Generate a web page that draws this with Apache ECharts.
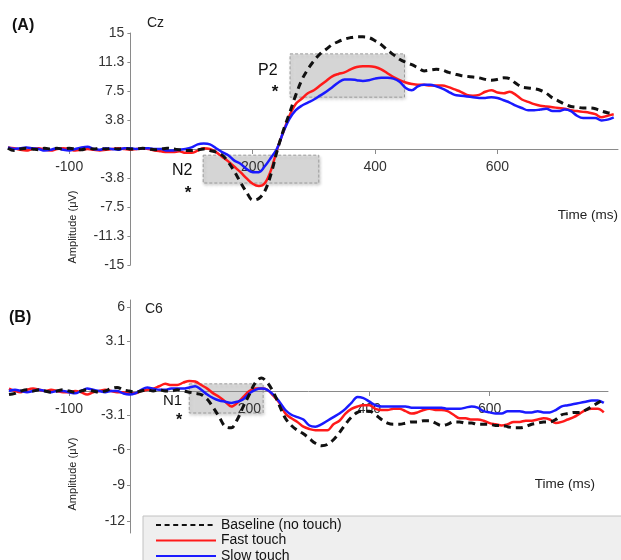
<!DOCTYPE html>
<html>
<head>
<meta charset="utf-8">
<script src="https://cdn.jsdelivr.net/npm/echarts@6/dist/echarts.min.js"></script>
<style>html,body{margin:0;padding:0;background:#fff;}#c{width:621px;height:560px;}</style>
</head>
<body>
<div id="c"></div>
<script>
// ---- data ----
const TIME = [-200,-190,-180,-170,-160,-150,-140,-130,-120,-110,-100,-90,-80,-70,-60,-50,-40,-30,-20,-10,
  0,10,20,30,40,50,60,70,80,90,100,110,120,130,140,150,160,170,180,190,
  200,210,220,230,240,250,260,270,280,290,300,310,320,330,340,350,360,370,380,390,
  400,410,420,430,440,450,460,470,480,490,500,510,520,530,540,550,560,570,580,590,
  600,610,620,630,640,650,660,670,680,690,700,710,720,730,740,750,760,770,780,790];

// Panel A (Cz)
const czBaseline = [0.1,-0.2,0.0,0.1,0.0,-0.1,0.1,0.0,0.1,0.0,0.1,0.0,-0.1,0.1,0.0,0.1,0.0,0.1,0.0,0.1,
  0.0,0.0,0.1,0.0,-0.1,0.0,0.1,0.0,-0.1,-0.2,-0.2,-0.1,0.0,-0.2,-0.4,-0.8,-1.7,-2.9,-4.3,-5.6,
  -6.6,-6.4,-5.4,-3.2,-0.2,2.4,4.6,6.9,8.9,10.3,11.4,12.3,12.9,13.5,13.9,14.2,14.4,14.5,14.5,14.4,
  14.0,13.5,12.8,12.2,11.6,11.2,10.9,10.5,10.1,10.2,10.3,10.2,9.9,9.7,9.5,9.4,9.3,9.2,9.0,8.9,
  9.0,9.2,9.1,8.5,8.0,7.9,7.8,7.6,7.2,6.6,6.2,5.8,5.5,5.4,5.3,5.3,5.2,4.9,4.7,4.6];
const czFast = [0.2,0.1,-0.1,-0.2,0.0,0.1,-0.1,-0.2,0.0,0.1,0.0,-0.2,-0.1,0.0,-0.1,-0.2,-0.1,0.0,0.1,0.0,
  -0.1,0.0,0.1,0.0,-0.2,-0.3,-0.4,-0.4,-0.3,-0.5,-0.5,-0.2,0.1,0.0,-0.4,-1.0,-1.6,-2.3,-3.0,-3.8,
  -4.5,-4.8,-4.4,-2.7,0.0,2.2,4.3,5.8,6.5,7.2,7.6,8.2,8.8,9.4,9.7,9.9,10.3,10.6,10.7,10.7,
  10.6,10.3,9.8,9.3,8.9,8.6,8.4,8.3,8.3,8.2,8.2,8.2,8.0,7.7,7.4,7.0,6.9,7.0,7.4,7.6,
  7.3,7.2,7.4,7.0,6.4,6.1,5.8,5.6,5.5,5.4,5.3,5.2,5.0,4.9,4.8,4.7,4.5,4.1,4.3,4.5];
const czSlow = [0.2,0.0,0.1,0.2,0.1,0.0,-0.2,-0.1,0.1,-0.1,-0.2,0.0,0.2,0.3,0.0,-0.1,0.1,0.0,-0.1,0.1,
  0.1,0.0,0.1,0.1,0.0,0.0,-0.2,-0.2,-0.1,0.0,0.2,0.6,0.7,0.6,0.1,-0.4,-0.8,-1.5,-1.9,-2.6,
  -3.0,-3.0,-2.2,-1.1,0.1,2.2,3.9,5.0,5.6,6.0,6.4,6.9,7.4,8.0,8.6,9.0,9.0,8.9,8.8,8.9,
  9.1,9.2,9.2,9.1,8.7,7.9,7.6,8.1,8.3,8.3,8.1,7.8,7.4,7.0,6.9,6.8,6.7,6.6,6.6,6.7,
  6.6,6.3,6.0,5.6,5.3,5.0,5.0,5.1,5.2,4.9,4.9,5.1,4.9,4.3,4.0,4.0,4.0,3.7,3.8,4.1];

// Panel B (C6)
const c6Baseline = [-0.3,-0.2,0.0,0.1,0.0,0.1,0.0,-0.1,0.0,0.1,0.0,-0.1,0.0,0.1,0.0,-0.1,0.0,0.2,0.3,0.1,
  0.0,-0.1,0.0,0.1,0.0,0.1,0.0,0.0,0.1,0.0,-0.1,-0.2,-0.3,-0.7,-1.4,-2.2,-3.0,-3.1,-2.4,-1.3,
  -0.3,0.7,1.1,0.7,-0.1,-1.2,-2.3,-2.9,-3.3,-3.6,-4.0,-4.4,-4.6,-4.5,-4.1,-3.5,-2.8,-2.2,-1.8,-1.7,
  -1.7,-2.0,-2.4,-2.7,-2.8,-2.8,-2.7,-2.6,-2.6,-2.5,-2.5,-2.7,-2.9,-2.8,-2.6,-2.6,-2.7,-2.7,-2.8,-2.8,
  -2.8,-2.9,-2.9,-3.0,-3.1,-3.1,-3.0,-2.8,-2.7,-2.6,-2.6,-2.4,-2.0,-1.9,-1.8,-1.8,-1.6,-1.3,-1.0,-0.7];
const c6Fast = [0.2,0.0,-0.1,0.1,0.2,0.1,0.0,0.1,0.0,-0.1,-0.1,0.0,-0.1,-0.3,-0.1,0.0,0.1,0.0,-0.1,-0.1,
  -0.2,-0.2,0.0,0.1,0.2,0.4,0.6,0.5,0.5,0.7,0.85,0.8,0.5,0.2,-0.2,-0.5,-0.9,-1.3,-1.0,-0.5,
  0.0,0.2,0.2,0.1,-0.4,-1.0,-1.9,-2.3,-2.6,-3.0,-3.2,-3.3,-3.3,-3.3,-2.8,-2.5,-1.9,-1.5,-1.3,-1.2,
  -1.2,-1.5,-1.6,-1.6,-1.5,-1.5,-1.7,-1.9,-1.8,-1.6,-1.5,-1.6,-1.6,-1.7,-2.0,-2.3,-2.3,-2.4,-2.4,-2.5,
  -2.7,-2.8,-2.9,-2.8,-2.6,-2.6,-2.5,-2.5,-2.4,-2.3,-2.4,-2.7,-2.6,-2.4,-2.2,-1.9,-1.6,-1.5,-1.5,-1.8];
const c6Slow = [0.0,0.1,0.0,-0.1,0.0,0.1,0.0,-0.1,0.0,0.0,-0.1,-0.2,0.0,0.2,0.1,0.0,-0.1,0.0,0.0,-0.2,
  -0.3,-0.2,0.1,0.3,0.2,0.1,0.1,0.2,0.2,0.2,0.3,0.4,0.1,-0.3,-0.6,-0.8,-0.9,-1.0,-0.9,-0.7,
  -0.2,0.1,0.2,0.1,-0.3,-0.9,-1.6,-2.0,-2.2,-2.4,-2.9,-3.0,-2.8,-2.5,-2.2,-1.9,-1.5,-1.0,-0.5,-0.6,
  -0.9,-1.2,-1.3,-1.3,-1.3,-1.3,-1.3,-1.4,-1.4,-1.4,-1.4,-1.4,-1.4,-1.5,-1.5,-1.5,-1.4,-1.3,-1.4,-1.7,
  -1.8,-1.9,-1.9,-1.7,-1.7,-1.7,-1.8,-1.8,-1.7,-1.8,-1.8,-1.6,-1.3,-1.2,-1.1,-1.0,-0.9,-0.8,-0.8,-1.0];

// tick labels
const xTicks = [-100, 200, 400, 600];
const czYTicks = [15, 11.25, 7.5, 3.75, -3.75, -7.5, -11.25, -15];
const c6YTicks = [6, 3.1, -3.1, -6, -9, -12];

// analysis windows [tStart, tEnd, vTop, vBottom]
const n2Window = [119, 308, -0.8, -4.4];
const p2Window = [261, 448, 12.3, 6.7];
const n1Window = [100, 223, 0.6, -1.85];

const NAMES = ['Baseline (no touch)', 'Fast touch', 'Slow touch'];

// ---- chart ----
const FONT = 'Liberation Sans, Arial, Helvetica, sans-serif';
const chart = echarts.init(document.getElementById('c'));
const pairs = v => TIME.map((t, i) => [t, v[i]]);

function lineSeries(name, values, xi, yi, kind) {
  const s = {
    name, type: 'line', xAxisIndex: xi, yAxisIndex: yi, data: pairs(values),
    symbol: 'none', showSymbol: false, smooth: 0.35, z: 3, animation: false
  };
  if (kind === 'base') { s.lineStyle = { color: '#111', width: 3, type: [7, 5] }; s.itemStyle = { color: '#111' }; s.z = 4; }
  if (kind === 'fast') { s.lineStyle = { color: '#ff1a1a', width: 2.5 }; s.itemStyle = { color: '#ff1a1a' }; }
  if (kind === 'slow') { s.lineStyle = { color: '#1a1aff', width: 2.5 }; s.itemStyle = { color: '#1a1aff' }; }
  return s;
}
function box(w) { return [{ xAxis: w[0], yAxis: w[2] }, { xAxis: w[1], yAxis: w[3] }]; }
const areaStyle = {
  color: 'rgba(215,215,215,0.75)', borderColor: '#9a9a9a', borderWidth: 1, borderType: [3, 2],
  shadowBlur: 3, shadowColor: 'rgba(0,0,0,0.25)', shadowOffsetX: 1, shadowOffsetY: 2
};
function areaSeries(xi, yi, windows) {
  return {
    type: 'line', xAxisIndex: xi, yAxisIndex: yi, data: [], z: 1, silent: true, animation: false,
    markArea: { silent: true, itemStyle: areaStyle, label: { show: false }, data: windows.map(box) }
  };
}

const axisGray = '#8a8a8a';
const labelStyle = { color: '#333', fontSize: 14, fontFamily: FONT };
function fmt(v) {
  const r = Math.sign(v) * Math.round(Math.abs(v) * 10) / 10;
  const s = r.toFixed(1);
  return s.endsWith('.0') ? s.slice(0, -2) : s;
}
function plotX(gi) {
  return { type: 'value', gridIndex: gi, min: -200, max: 797, show: false, splitLine: { show: false } };
}
function dummyX(gi) { return { type: 'value', gridIndex: gi, min: 0, max: 1, show: false, splitLine: { show: false } }; }
function showX(gi) {
  return {
    type: 'value', gridIndex: gi, min: -200, max: 797, position: 'bottom', z: 2,
    axisLine: { onZero: false, lineStyle: { color: axisGray, width: 1 } },
    axisTick: { show: true, length: 5, customValues: xTicks, lineStyle: { color: axisGray } },
    axisLabel: Object.assign({ customValues: xTicks, margin: 11 }, labelStyle),
    splitLine: { show: false }
  };
}
function hiddenY(gi, min, max) { return { type: 'value', gridIndex: gi, min, max, show: false, position: 'left', splitLine: { show: false } }; }
function showY(gi, min, max, ticks, margin) {
  return {
    type: 'value', gridIndex: gi, min, max, position: 'left', z: 2,
    axisLine: { show: true, onZero: false, lineStyle: { color: axisGray } },
    axisTick: { show: true, length: 3, customValues: ticks, lineStyle: { color: axisGray } },
    axisLabel: Object.assign({ customValues: ticks, margin, formatter: fmt }, labelStyle),
    splitLine: { show: false }
  };
}
const G = (left, top, width, height) => ({ left, top, width, height, outerBoundsMode: 'none', containLabel: false });

const option = {
  backgroundColor: '#fff',
  animation: false,
  grid: [
    G(8, 33, 610, 232),      // 0: plot A
    G(8, 33, 610, 116),      // 1: x axis A (bottom edge at zero line)
    G(9, 300, 599, 233),     // 2: plot B
    G(9, 300, 599, 91),      // 3: x axis B
    G(130.4, 33, 487.6, 232),// 4: y axis A
    G(130, 300, 478, 233)    // 5: y axis B
  ],
  xAxis: [plotX(0), showX(1), plotX(2), showX(3), dummyX(4), dummyX(5)],
  yAxis: [
    hiddenY(0, -15, 15),
    hiddenY(1, 0, 1),
    hiddenY(2, -11.94, 7.65),
    hiddenY(3, 0, 1),
    showY(4, -15, 15, czYTicks, 6),
    showY(5, -13.01, 6.59, c6YTicks, 5)
  ],
  legend: {
    data: [
      { name: NAMES[0], lineStyle: { type: [5, 3.6], width: 2 } },
      { name: NAMES[1], lineStyle: { width: 2 } },
      { name: NAMES[2], lineStyle: { width: 2 } }
    ],
    orient: 'vertical', left: 143, top: 516, height: 70,
    padding: [2, 300, 6, 12],
    itemWidth: 60, itemHeight: 14, itemGap: 1.5,
    itemStyle: { opacity: 0 },
    backgroundColor: '#efefef', borderColor: '#c2c2c2', borderWidth: 1,
    textStyle: { fontSize: 14, fontFamily: FONT, color: '#111', lineHeight: 14 },
    selectedMode: false
  },
  series: [
    areaSeries(0, 0, [n2Window, p2Window]),
    lineSeries(NAMES[1], czFast, 0, 0, 'fast'),
    lineSeries(NAMES[2], czSlow, 0, 0, 'slow'),
    lineSeries(NAMES[0], czBaseline, 0, 0, 'base'),
    areaSeries(2, 2, [n1Window]),
    lineSeries(NAMES[1], c6Fast, 2, 2, 'fast'),
    lineSeries(NAMES[2], c6Slow, 2, 2, 'slow'),
    lineSeries(NAMES[0], c6Baseline, 2, 2, 'base')
  ],
  graphic: [
    { type: 'text', x: 12, y: 26, style: { text: '(A)', font: 'bold 16px ' + FONT, fill: '#111', align: 'left', verticalAlign: 'middle' } },
    { type: 'text', x: 147, y: 23, style: { text: 'Cz', font: '14px ' + FONT, fill: '#222', align: 'left', verticalAlign: 'middle' } },
    { type: 'text', x: 172, y: 171, style: { text: 'N2', font: '16px ' + FONT, fill: '#111', align: 'left', verticalAlign: 'middle' } },
    { type: 'text', x: 188, y: 193, style: { text: '*', font: 'bold 17px ' + FONT, fill: '#111', align: 'center', verticalAlign: 'middle' } },
    { type: 'text', x: 258, y: 71, style: { text: 'P2', font: '16px ' + FONT, fill: '#111', align: 'left', verticalAlign: 'middle' } },
    { type: 'text', x: 275, y: 92, style: { text: '*', font: 'bold 17px ' + FONT, fill: '#111', align: 'center', verticalAlign: 'middle' } },
    { type: 'text', x: 618, y: 215, style: { text: 'Time (ms)', font: '13.5px ' + FONT, fill: '#222', align: 'right', verticalAlign: 'middle' } },
    { type: 'text', x: 73, y: 227, rotation: Math.PI / 2, style: { text: 'Amplitude (μV)', font: '11px ' + FONT, fill: '#222', align: 'center', verticalAlign: 'middle' } },
    { type: 'text', x: 9, y: 318, style: { text: '(B)', font: 'bold 16px ' + FONT, fill: '#111', align: 'left', verticalAlign: 'middle' } },
    { type: 'text', x: 145, y: 309, style: { text: 'C6', font: '14px ' + FONT, fill: '#222', align: 'left', verticalAlign: 'middle' } },
    { type: 'text', x: 163, y: 401, style: { text: 'N1', font: '15px ' + FONT, fill: '#111', align: 'left', verticalAlign: 'middle' } },
    { type: 'text', x: 179, y: 421, style: { text: '*', font: 'bold 16px ' + FONT, fill: '#111', align: 'center', verticalAlign: 'middle' } },
    { type: 'text', x: 595, y: 484, style: { text: 'Time (ms)', font: '13.5px ' + FONT, fill: '#222', align: 'right', verticalAlign: 'middle' } },
    { type: 'text', x: 73, y: 474, rotation: Math.PI / 2, style: { text: 'Amplitude (μV)', font: '11px ' + FONT, fill: '#222', align: 'center', verticalAlign: 'middle' } }
  ]
};
chart.setOption(option);
</script>
</body>
</html>
